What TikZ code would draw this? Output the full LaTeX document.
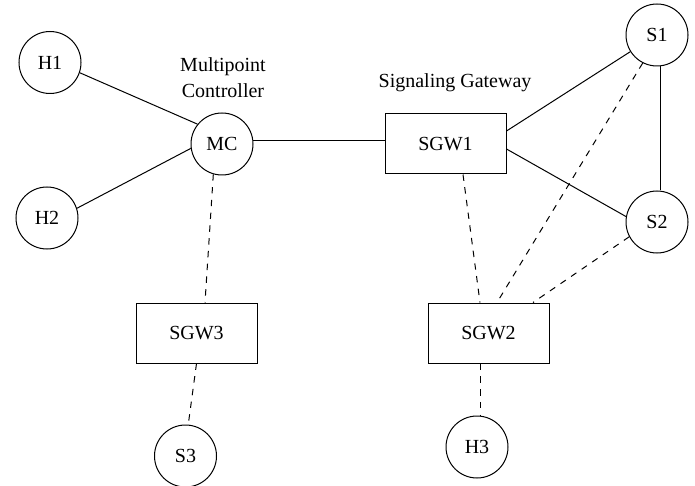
\documentclass[tikz,border=0pt]{standalone}
\usepackage{fontspec}
\setmainfont{Liberation Serif}
\usetikzlibrary{calc}
\begin{document}
\begin{tikzpicture}[x=0.5pt,y=-0.5pt,
  every node/.style={font=\fontsize{10}{13}\selectfont},
  station/.style={draw,circle,minimum size=31pt,inner sep=0pt,line width=0.5pt},
  gateway/.style={draw,rectangle,minimum width=60.5pt,minimum height=30pt,inner sep=0pt,line width=0.5pt},
  link/.style={line width=0.5pt},
  aux/.style={line width=0.5pt,dash pattern=on 3.2pt off 3.2pt}]
\useasboundingbox (0,0) rectangle (695,486);

% endpoints and controllers
\node[station] (h1) at (50,62.5) {H1};
\node[station] (h2) at (47,218) {H2};
\node[station] (mc) at (222,144) {MC};
\node[station] (s1) at (657,35) {S1};
\node[station] (s2) at (657,222) {S2};
\node[station] (s3) at (185.5,456) {S3};
\node[station] (h3) at (477,447) {H3};

% gateways
\node[gateway] (sgw1) at (445.5,144) {SGW1};
\node[gateway] (sgw2) at (488.5,333) {SGW2\hspace{6.5pt}};
\node[gateway] (sgw3) at (196.5,333) {SGW3\hspace{7.5pt}};

% captions
\node[align=center] (mclabel) at (223,78) {Multipoint\\Controller};
\node (sgwlabel) at (455,83) {Signaling Gateway};

% solid links
\draw[link] (h1.-19) -- (mc.141);
\draw[link] (h2.18) -- (mc.188);
\draw[link] (mc.7) -- (mc.7 -| sgw1.west);
\draw[link] ($(sgw1.east)+(0,-13)$) -- (s1.212);
\draw[link] ($(sgw1.east)+(0,5)$) -- (s2.170);
\draw[link] (s1.-83) -- (s1.-83 |- s2.north);

% dashed links
\draw[aux] (mc.-106) -- ($(sgw3.north)+(8.5,0)$);
\draw[aux] (sgw3.south) -- (s3.85);
\draw[aux] ($(sgw1.south)+(17.5,0)$) -- ($(sgw2.north)+(-8.5,0)$);
\draw[aux] (s1.243) -- ($(sgw2.north)+(8.5,0)$);
\draw[aux] (s2.208) -- ($(sgw2.north)+(44.5,0)$);
\draw[aux] ($(sgw2.south)+(-8.5,0)$) -- ($(h3.north)+(3,0)$);
\end{tikzpicture}
\end{document}
